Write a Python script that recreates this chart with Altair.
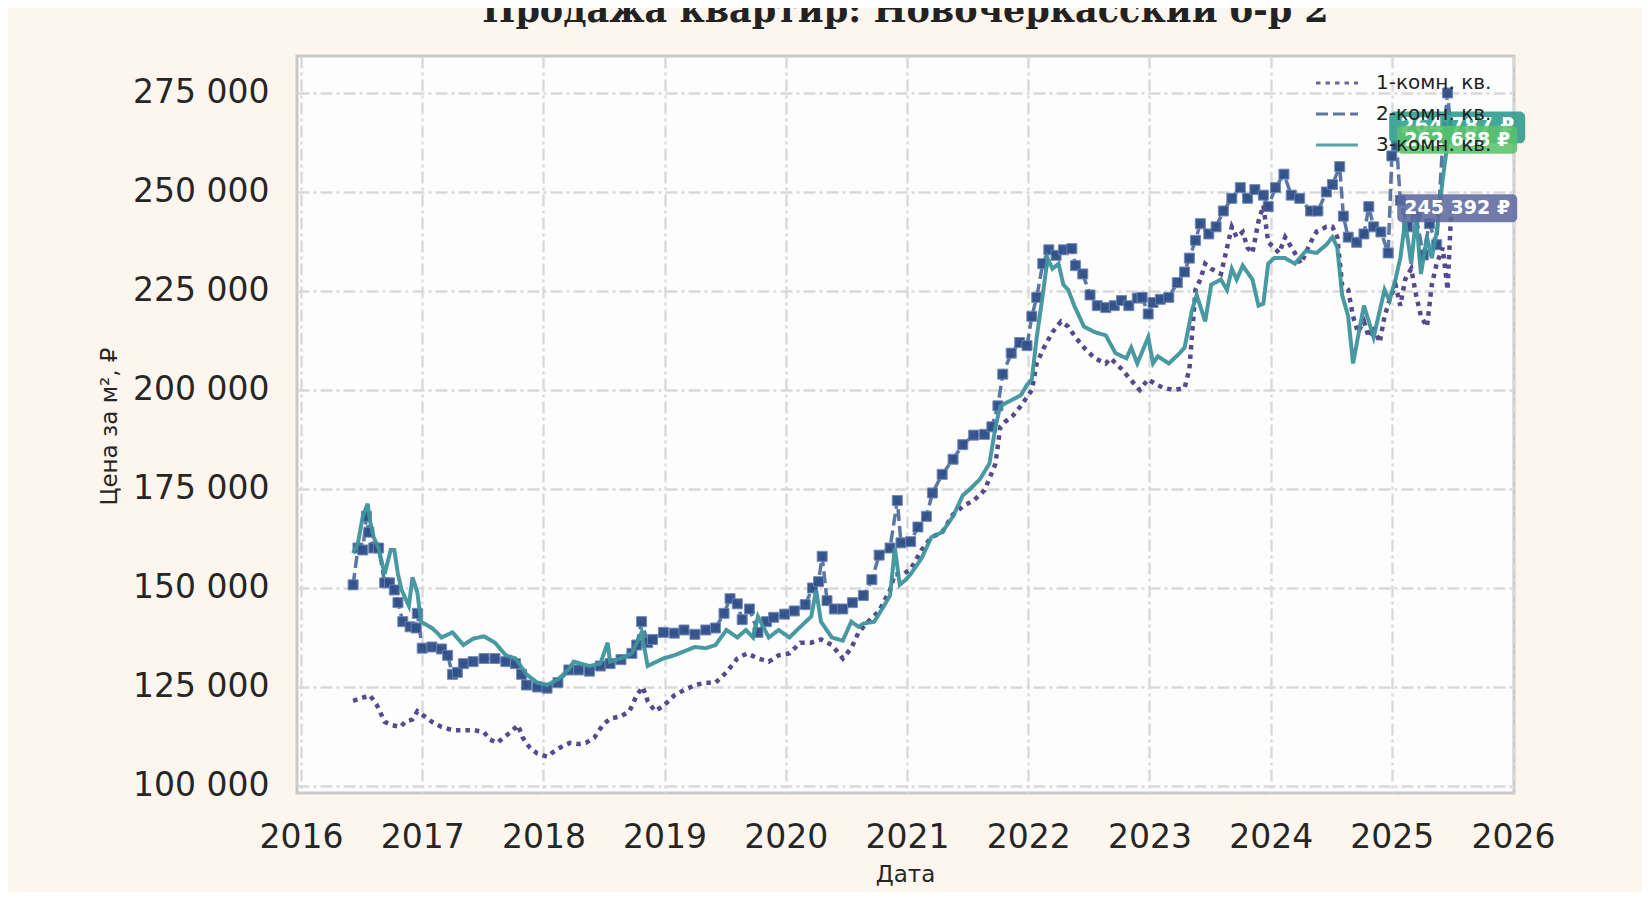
import altair as alt
import pandas as pd

SERIES = ["1-комн. кв.", "2-комн. кв.", "3-комн. кв."]
LINE_COLORS = ["#56498c", "#3f5f94", "#3e949c"]
BOX_COLORS = ["#5d6a9f", "#2b9a8c", "#5ac26c"]
DASHES = [[4.5, 5], [12, 5], [1, 0]]
LABEL_SHIFT = [-2, -6, -2]
BOX_SIZE = [14400, 18500, 14400]
LABEL_FONT_SIZE = [19, 20.5, 19]

TITLE = "Продажа квартир: Новочеркасский б-р 2"
X_TICKS = list(range(2016, 2027))
Y_TICKS = [100000, 125000, 150000, 175000, 200000, 225000, 250000, 275000]

# 1-комн
years_1 = [2016.43, 2016.51, 2016.57, 2016.63, 2016.69, 2016.75, 2016.82, 2016.86, 2016.92, 2016.96,
           2017.02, 2017.08, 2017.16, 2017.25, 2017.34, 2017.43, 2017.51, 2017.56, 2017.62, 2017.67,
           2017.73, 2017.79, 2017.83, 2017.89, 2017.95, 2018.03, 2018.10, 2018.16, 2018.22, 2018.29,
           2018.35, 2018.42, 2018.49, 2018.55, 2018.64, 2018.71, 2018.77, 2018.82, 2018.86, 2018.92,
           2018.99, 2019.08, 2019.16, 2019.25, 2019.34, 2019.42, 2019.51, 2019.60, 2019.68, 2019.77,
           2019.86, 2019.94, 2020.03, 2020.12, 2020.21, 2020.29, 2020.38, 2020.47, 2020.54, 2020.60,
           2020.68, 2020.77, 2020.86, 2020.90, 2020.97, 2021.03, 2021.12, 2021.20, 2021.29, 2021.38,
           2021.47, 2021.55, 2021.64, 2021.73, 2021.77, 2021.81, 2021.87, 2021.94, 2022.03, 2022.07,
           2022.13, 2022.20, 2022.27, 2022.33, 2022.39, 2022.46, 2022.55, 2022.64, 2022.68, 2022.77,
           2022.86, 2022.92, 2022.99, 2023.06, 2023.12, 2023.20, 2023.29, 2023.33, 2023.38, 2023.42,
           2023.46, 2023.51, 2023.59, 2023.64, 2023.68, 2023.72, 2023.77, 2023.81, 2023.85, 2023.90,
           2023.94, 2023.98, 2024.03, 2024.07, 2024.12, 2024.20, 2024.25, 2024.29, 2024.33, 2024.38,
           2024.46, 2024.51, 2024.55, 2024.59, 2024.64, 2024.68, 2024.72, 2024.77, 2024.81, 2024.85,
           2024.90, 2024.94, 2024.98, 2025.03, 2025.07, 2025.11, 2025.16, 2025.20, 2025.24, 2025.29,
           2025.33, 2025.37, 2025.42, 2025.46, 2025.49]
price_1 = [121500, 122300, 122900, 120200, 116200, 115400, 114900, 116200, 116800, 118900,
           117600, 116200, 114900, 114100, 114100, 114100, 113600, 111700, 110900, 112200,
           113600, 115400, 112200, 109600, 108200, 107400, 109000, 110100, 110900, 110600,
           110900, 112200, 115400, 117000, 117600, 118900, 122900, 125000, 121500, 118900,
           120200, 122900, 124200, 125500, 126100, 126100, 128700, 132200, 133500, 132200,
           131400, 133000, 133500, 136200, 136200, 137000, 135600, 132200, 134800, 138800,
           141500, 144200, 149500, 153500, 153500, 154800, 159600, 162800, 164100, 168600,
           170800, 172100, 174700, 181400, 190700, 192000, 193400, 196000, 200000, 206700,
           210700, 214600, 217300, 216000, 213300, 210700, 208000, 206700, 208000, 205300,
           202100, 200000, 202700, 201300, 200500, 200000, 200500, 205300, 225300, 227900,
           231900, 230600, 229300, 235900, 241200, 238600, 239900, 235900, 234600, 242600,
           246600, 237300, 235900, 234600, 238600, 234600, 231900, 234600, 237300, 240000,
           241200, 241200, 238600, 226600, 225300, 218600, 214600, 217300, 213300, 216000,
           212000, 218600, 222600, 226600, 221300, 227900, 230600, 224000, 218600, 216000,
           226600, 231900, 235900, 225300, 245392]

# 2-комн
years_2 = [2016.43, 2016.47, 2016.51, 2016.54, 2016.56, 2016.60, 2016.64, 2016.69, 2016.73, 2016.77,
           2016.80, 2016.84, 2016.90, 2016.95, 2016.96, 2017.00, 2017.08, 2017.16, 2017.21, 2017.25,
           2017.29, 2017.34, 2017.42, 2017.51, 2017.60, 2017.69, 2017.77, 2017.82, 2017.86, 2017.95,
           2018.03, 2018.12, 2018.21, 2018.29, 2018.38, 2018.47, 2018.55, 2018.64, 2018.73, 2018.77,
           2018.81, 2018.86, 2018.90, 2018.99, 2019.08, 2019.16, 2019.25, 2019.34, 2019.42, 2019.49,
           2019.54, 2019.60, 2019.64, 2019.70, 2019.77, 2019.84, 2019.90, 2019.99, 2020.07, 2020.16,
           2020.22, 2020.27, 2020.30, 2020.34, 2020.40, 2020.47, 2020.55, 2020.64, 2020.71, 2020.77,
           2020.86, 2020.92, 2020.95, 2021.03, 2021.09, 2021.16, 2021.21, 2021.29, 2021.38, 2021.46,
           2021.55, 2021.64, 2021.70, 2021.75, 2021.79, 2021.86, 2021.93, 2021.99, 2022.03, 2022.07,
           2022.12, 2022.17, 2022.23, 2022.29, 2022.36, 2022.39, 2022.45, 2022.51, 2022.57, 2022.64,
           2022.71, 2022.77, 2022.83, 2022.90, 2022.94, 2022.99, 2023.03, 2023.09, 2023.16, 2023.23,
           2023.29, 2023.33, 2023.38, 2023.42, 2023.49, 2023.55, 2023.61, 2023.68, 2023.75, 2023.81,
           2023.87, 2023.94, 2023.98, 2024.04, 2024.11, 2024.17, 2024.24, 2024.33, 2024.39, 2024.46,
           2024.51, 2024.57, 2024.60, 2024.64, 2024.71, 2024.77, 2024.81, 2024.85, 2024.91, 2024.97,
           2025.00, 2025.04, 2025.07, 2025.13, 2025.20, 2025.26, 2025.31, 2025.37, 2025.42, 2025.46,
           2025.49]
price_2 = [150800, 160100, 159600, 168100, 164100, 160100, 160100, 151300, 151300, 149500,
           146300, 141500, 140200, 139900, 143600, 134800, 135100, 134600, 133000, 128200,
           128700, 130900, 131400, 132200, 132200, 131400, 130900, 128200, 125500, 125000,
           124700, 126100, 129300, 129300, 129000, 130300, 130900, 131900, 133500, 135600,
           141500, 136200, 137000, 138800, 138600, 139400, 138300, 139400, 139900, 143600,
           147300, 146000, 142000, 144700, 138800, 141500, 142600, 143400, 144200, 145800,
           150000, 151600, 158000, 146800, 144700, 144700, 146300, 148100, 152100, 158300,
           160100, 172100, 161400, 161700, 165400, 168100, 174000, 178700, 182500, 186200,
           188600, 188800, 190700, 196000, 204000, 209300, 212000, 211200, 218600, 223400,
           231900, 235400, 234000, 235400, 235700, 231400, 229300, 224000, 221300, 220800,
           221300, 222600, 221300, 223200, 223400, 219200, 222100, 222900, 223400, 227100,
           229800, 233300, 237800, 242000, 239400, 241200, 245200, 248400, 251100, 248400,
           250600, 249200, 246300, 251100, 254500, 249200, 248400, 245200, 245200, 250000,
           251900, 256400, 243900, 238600, 237300, 239400, 246300, 241200, 239900, 234600,
           259100, 261700, 247900, 241200, 243900, 234100, 242000, 236700, 262500, 275000,
           264787]

# 3-комн
years_3 = [2016.43, 2016.47, 2016.51, 2016.55, 2016.57, 2016.60, 2016.64, 2016.69, 2016.74, 2016.77,
           2016.80, 2016.83, 2016.89, 2016.92, 2016.96, 2016.99, 2017.08, 2017.12, 2017.16, 2017.25,
           2017.34, 2017.42, 2017.51, 2017.60, 2017.69, 2017.77, 2017.86, 2017.95, 2018.03, 2018.12,
           2018.21, 2018.25, 2018.38, 2018.47, 2018.53, 2018.55, 2018.64, 2018.73, 2018.81, 2018.86,
           2018.90, 2018.99, 2019.08, 2019.16, 2019.25, 2019.34, 2019.42, 2019.51, 2019.60, 2019.67,
           2019.73, 2019.77, 2019.86, 2019.94, 2020.03, 2020.12, 2020.21, 2020.25, 2020.29, 2020.38,
           2020.47, 2020.54, 2020.60, 2020.64, 2020.73, 2020.81, 2020.86, 2020.90, 2020.94, 2020.99,
           2021.03, 2021.12, 2021.20, 2021.29, 2021.38, 2021.46, 2021.51, 2021.60, 2021.68, 2021.73,
           2021.77, 2021.86, 2021.94, 2021.99, 2022.03, 2022.07, 2022.12, 2022.16, 2022.20, 2022.25,
           2022.29, 2022.33, 2022.38, 2022.46, 2022.55, 2022.64, 2022.72, 2022.81, 2022.85, 2022.90,
           2022.99, 2023.03, 2023.07, 2023.16, 2023.25, 2023.29, 2023.35, 2023.39, 2023.46, 2023.51,
           2023.59, 2023.64, 2023.68, 2023.72, 2023.77, 2023.85, 2023.90, 2023.94, 2023.98, 2024.03,
           2024.12, 2024.20, 2024.29, 2024.38, 2024.46, 2024.51, 2024.55, 2024.59, 2024.64, 2024.68,
           2024.72, 2024.77, 2024.81, 2024.85, 2024.90, 2024.94, 2024.98, 2025.03, 2025.07, 2025.11,
           2025.16, 2025.20, 2025.24, 2025.29, 2025.33, 2025.37, 2025.42, 2025.46, 2025.49]
price_3 = [158800, 161400, 168100, 171300, 166800, 162800, 160100, 153500, 159600, 159600,
           153500, 149500, 145500, 152700, 148900, 141500, 139900, 138800, 137500, 138800,
           135600, 137200, 137800, 136200, 133000, 132200, 128200, 126100, 125500, 126900,
           129500, 131400, 130300, 130900, 136200, 131400, 132200, 133500, 138800, 130300,
           130900, 132200, 133000, 134000, 135100, 134800, 135600, 139400, 137500, 139400,
           137500, 142800, 137500, 139400, 137500, 140200, 142800, 149500, 141500, 137500,
           136700, 141500, 140200, 141000, 141500, 145500, 148100, 160100, 150800, 152100,
           153500, 157500, 162800, 164100, 168100, 173400, 174700, 177400, 181400, 190700,
           196000, 197400, 198700, 201300, 202700, 213300, 224000, 233300, 230600, 231900,
           226600, 225300, 221300, 216000, 214600, 213800, 209300, 208000, 210700, 206700,
           213300, 206700, 208500, 206700, 209300, 210700, 220000, 224000, 217300, 226600,
           227900, 225300, 230600, 227900, 231400, 227900, 221300, 221800, 231900, 233300,
           233300, 231900, 235100, 234600, 236700, 238600, 236000, 224000, 218600, 206700,
           213300, 221300, 217300, 213300, 220000, 225300, 222600, 227900, 233300, 242600,
           231900, 243900, 229300, 238600, 233300, 239900, 253200, 262500, 262688]

frames = []
for name, yrs, prs in zip(SERIES, [years_1, years_2, years_3], [price_1, price_2, price_3]):
    frames.append(pd.DataFrame({"year": yrs, "price": prs, "series": name}))
df = pd.concat(frames, ignore_index=True)

last = df.groupby("series").tail(1).copy()
last["label"] = last["price"].map(lambda v: f"{int(v):,}".replace(",", " ") + " ₽")

FONT = "DejaVu Sans"
x_scale = alt.Scale(domain=[2015.967, 2026.008], nice=False, zero=False)
y_scale = alt.Scale(domain=[98232, 284340], nice=False, zero=False)

x_enc = alt.X(
    "year:Q", scale=x_scale,
    axis=alt.Axis(
        values=X_TICKS, format="d", title="Дата", labelOverlap=False, labelFlush=False,
        labelFontSize=33, labelBaseline="alphabetic", labelPadding=54,
        titleFontSize=23, titleX=608, titleY=88, titleBaseline="alphabetic",
    ),
)
y_enc = alt.Y(
    "price:Q", scale=y_scale,
    axis=alt.Axis(
        values=Y_TICKS, labelExpr="replace(format(datum.value, ',d'), ',', ' ')",
        title="Цена за м², ₽", labelOverlap=False, labelFlush=False,
        labelFontSize=33, labelPadding=28, labelBaseline="middle",
        titleFontSize=23, titleX=-181, titleY=370, titleBaseline="alphabetic",
    ),
)
color_enc = alt.Color("series:N", scale=alt.Scale(domain=SERIES, range=LINE_COLORS), title=None)
dash_enc = alt.StrokeDash("series:N", scale=alt.Scale(domain=SERIES, range=DASHES), title=None)

base = alt.Chart(df).encode(x=x_enc, y=y_enc, color=color_enc, strokeDash=dash_enc)

line_2 = base.transform_filter(alt.datum.series == SERIES[1]).mark_line(strokeWidth=3.5, opacity=0.85)
pts_2 = alt.Chart(df).transform_filter(alt.datum.series == SERIES[1]).mark_point(
    shape="square", filled=True, size=100, fill="#2f4f88", stroke="#6a85b5",
    strokeWidth=1, opacity=0.95,
).encode(x=x_enc, y=y_enc)
line_1 = base.transform_filter(alt.datum.series == SERIES[0]).mark_line(strokeWidth=4.5, strokeCap="butt")
line_3 = base.transform_filter(alt.datum.series == SERIES[2]).mark_line(strokeWidth=4, opacity=0.95)

BOX = ("M-0.917,-0.233H0.917A0.083,0.083 0 0 1 1,-0.15V0.15A0.083,0.083 0 0 1 0.917,0.233"
       "H-0.917A0.083,0.083 0 0 1 -1,0.15V-0.15A0.083,0.083 0 0 1 -0.917,-0.233Z")
label_layers = []
for name, box_color, shift, bsize, fsize in zip(SERIES, BOX_COLORS, LABEL_SHIFT, BOX_SIZE, LABEL_FONT_SIZE):
    one = alt.Chart(last).transform_filter(alt.datum.series == name)
    label_layers.append(one.mark_point(
        shape=BOX, filled=True, size=bsize, opacity=0.88, xOffset=6, yOffset=shift,
        strokeWidth=0, fill=box_color,
    ).encode(x=x_enc, y=y_enc))
    label_layers.append(one.mark_text(
        font=FONT, fontSize=fsize, fontWeight="bold", color="white", xOffset=6, yOffset=shift,
        baseline="middle",
    ).encode(x=x_enc, y=y_enc, text="label:N"))

chart = alt.layer(line_2, pts_2, line_1, line_3, *label_layers).properties(
    width=1217,
    height=737,
    autosize=alt.AutoSizeParams(type="none"),
    padding={"left": 289, "top": 48, "right": 128, "bottom": 99},
    background="#fdf6ee",
    title=alt.TitleParams(
        text=TITLE, font="DejaVu Serif", fontSize=35, fontWeight="bold",
        color="#222222", anchor="middle", frame="group", offset=27,
    ),
).configure_view(
    fill="#fdfdfd", stroke="#c9c9cd", strokeWidth=3,
).configure_axis(
    labelFont=FONT, titleFont=FONT, labelColor="#262626", titleColor="#262626",
    titleFontWeight="normal", grid=True, gridColor="#d9d9d9", gridDash=[12, 4, 3, 4],
    gridWidth=2.4, ticks=False, domain=False,
).configure_legend(
    orient="none", legendX=1028, legendY=15, labelFont=FONT, labelFontSize=20,
    labelColor="#222222", symbolType="M-2,0H2", symbolSize=441, symbolStrokeWidth=3,
    labelOffset=27, rowPadding=9, padding=0,
)

chart.save("out.html", embed_options={"renderer": "svg", "actions": False})
